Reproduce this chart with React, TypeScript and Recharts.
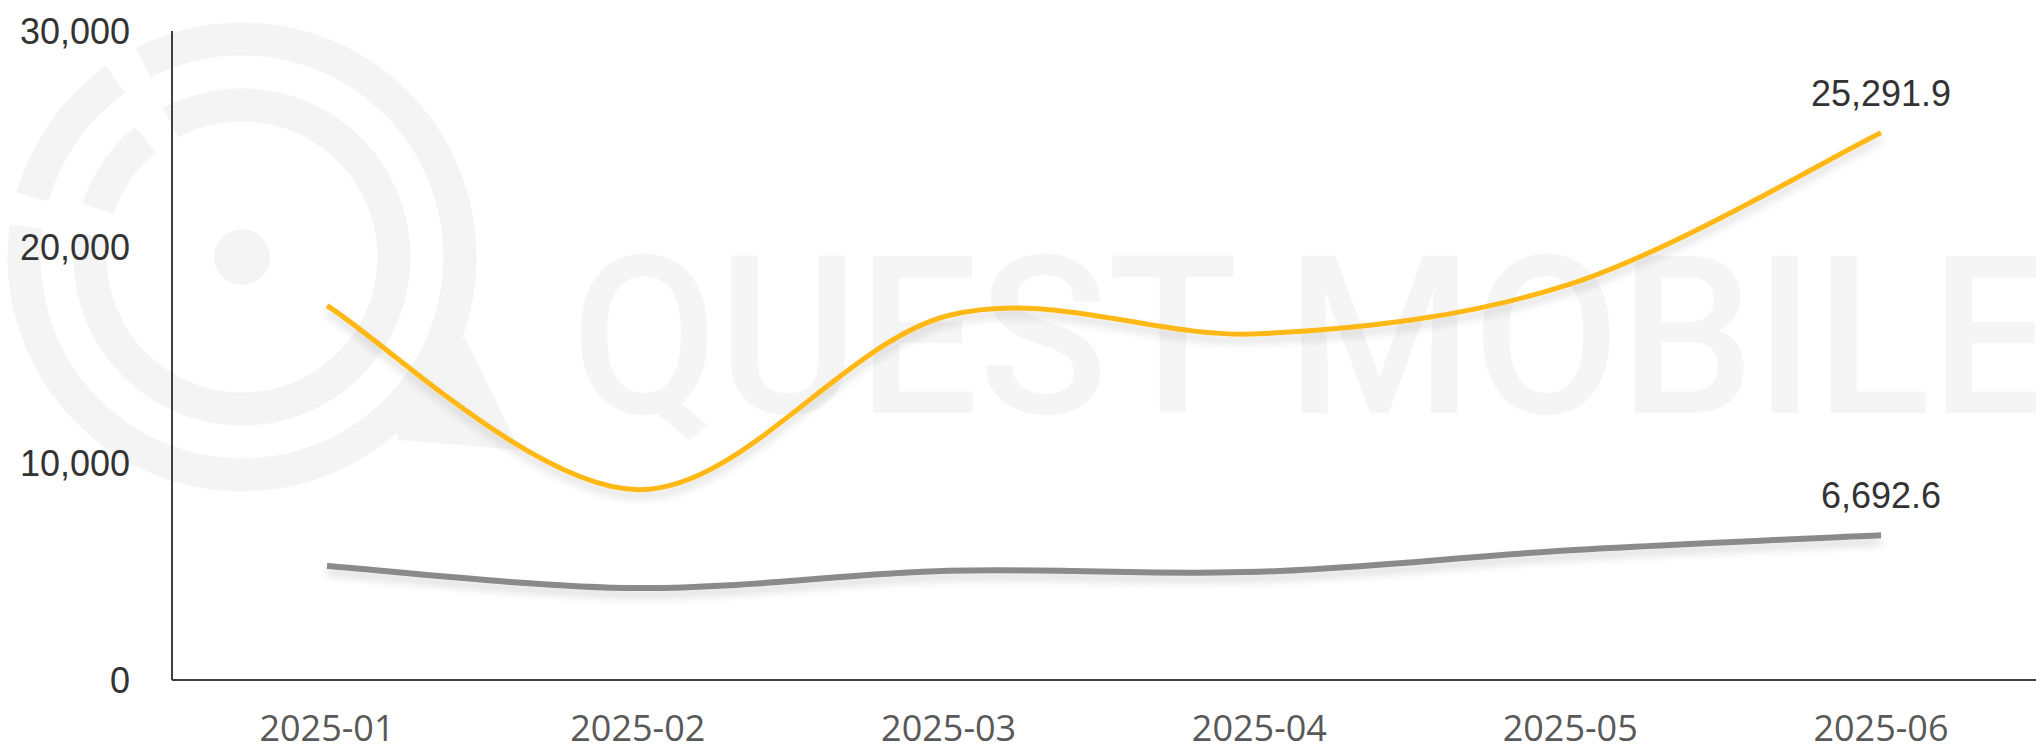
import React from 'react';
import { LineChart, Line, XAxis, YAxis } from 'recharts';

const months = ['2025-01', '2025-02', '2025-03', '2025-04', '2025-05', '2025-06'];
const yellowSeries = [17300, 8800, 16850, 16000, 18300, 25291.9];
const greySeries = [5270, 4250, 5050, 5000, 6000, 6692.6];
const yTicks = [0, 10000, 20000, 30000];

const data = months.map((m, i) => ({ month: m, yellow: yellowSeries[i], grey: greySeries[i] }));

// smooth curve similar to office "smoothed line" (catmull-rom style bezier)
const smoothCurve = (context: any) => {
  let pts: number[][] = [];
  return {
    areaStart() {},
    areaEnd() {},
    lineStart() {
      pts = [];
    },
    point(x: number, y: number) {
      pts.push([+x, +y]);
    },
    lineEnd() {
      if (!pts.length) return;
      context.moveTo(pts[0][0], pts[0][1]);
      for (let i = 0; i < pts.length - 1; i++) {
        const p0 = pts[Math.max(0, i - 1)];
        const p1 = pts[i];
        const p2 = pts[i + 1];
        const p3 = pts[Math.min(pts.length - 1, i + 2)];
        context.bezierCurveTo(
          p1[0] + (p2[0] - p0[0]) / 6,
          p1[1] + (p2[1] - p0[1]) / 6,
          p2[0] - (p3[0] - p1[0]) / 6,
          p2[1] - (p3[1] - p1[1]) / 6,
          p2[0],
          p2[1]
        );
      }
    },
  };
};

const fmt = (v: number) => v.toLocaleString('en-US');

const lastLabel = (props: any) => {
  const { x, y, index, value } = props;
  if (index !== months.length - 1) return <g key={`l-${index}`} />;
  return (
    <text
      key={`l-${index}`}
      x={x}
      y={y - 27}
      textAnchor="middle"
      fill="#333333"
      fontSize={36}
      fontFamily="'Liberation Sans', Arial, sans-serif"
    >
      {Number(value).toLocaleString('en-US', { minimumFractionDigits: 1 })}
    </text>
  );
};

// faint logo + wordmark behind the plot
const Watermark = () => (
  <svg width={2036} height={747} style={{ position: 'absolute', left: 0, top: 0 }}>
    <g fill="none" stroke="#f4f4f4" strokeWidth={33}>
      <circle cx={242} cy={257} r={152} pathLength={360} strokeDasharray="188 10.5 32 11.5 118" />
      <circle cx={242} cy={257} r={218} pathLength={360} strokeDasharray="188 8 38.5 8.5 117" />
    </g>
    <polygon points="425,345 465,338 520,450 398,440 390,402" fill="#f4f4f4" />
    <circle cx={242} cy={257} r={28} fill="#f4f4f4" />
    <text
      x={571}
      y={413}
      fill="#f5f5f5"
      fontSize={220}
      fontWeight={500}
      fontFamily="Roboto, 'Liberation Sans', sans-serif"
      textLength={1480}
      lengthAdjust="spacingAndGlyphs"
    >
      QUEST MOBILE
    </text>
  </svg>
);

export default function App() {
  return (
    <div style={{ position: 'absolute', left: 0, top: 0, width: 2036, height: 747, background: '#fff', overflow: 'hidden' }}>
      <Watermark />
      <div style={{ position: 'absolute', left: 0, top: 0 }}>
        <LineChart width={2036} height={747} data={data} margin={{ top: 31, right: 0, bottom: 0, left: 0 }}>
          <defs>
            <filter id="lineShadow" x="-5%" y="-20%" width="110%" height="160%">
              <feDropShadow dx="0" dy="6" stdDeviation="4" floodColor="#000" floodOpacity="0.16" />
            </filter>
          </defs>
          <XAxis
            dataKey="month"
            height={67}
            padding={{ left: 155, right: 155 }}
            axisLine={{ stroke: '#404040', strokeWidth: 2 }}
            tickLine={false}
            tickSize={0}
            tickMargin={35}
            tick={{ fill: '#595959', fontSize: 36, fontFamily: "'Open Sans', 'Noto Sans', sans-serif" }}
          />
          <YAxis
            width={172}
            domain={[0, 30000]}
            ticks={yTicks}
            tickFormatter={fmt}
            axisLine={{ stroke: '#404040', strokeWidth: 2 }}
            tickLine={false}
            tickSize={0}
            tickMargin={42}
            tick={{ fill: '#333333', fontSize: 36, fontFamily: "'Liberation Sans', Arial, sans-serif" }}
          />
          <Line
            dataKey="grey"
            type={smoothCurve as any}
            stroke="#8a8a8a"
            strokeWidth={6}
            dot={false}
            activeDot={false}
            filter="url(#lineShadow)"
            label={lastLabel}
            isAnimationActive={false}
          />
          <Line
            dataKey="yellow"
            type={smoothCurve as any}
            stroke="#ffb812"
            strokeWidth={5}
            dot={false}
            activeDot={false}
            filter="url(#lineShadow)"
            label={lastLabel}
            isAnimationActive={false}
          />
        </LineChart>
      </div>
    </div>
  );
}
